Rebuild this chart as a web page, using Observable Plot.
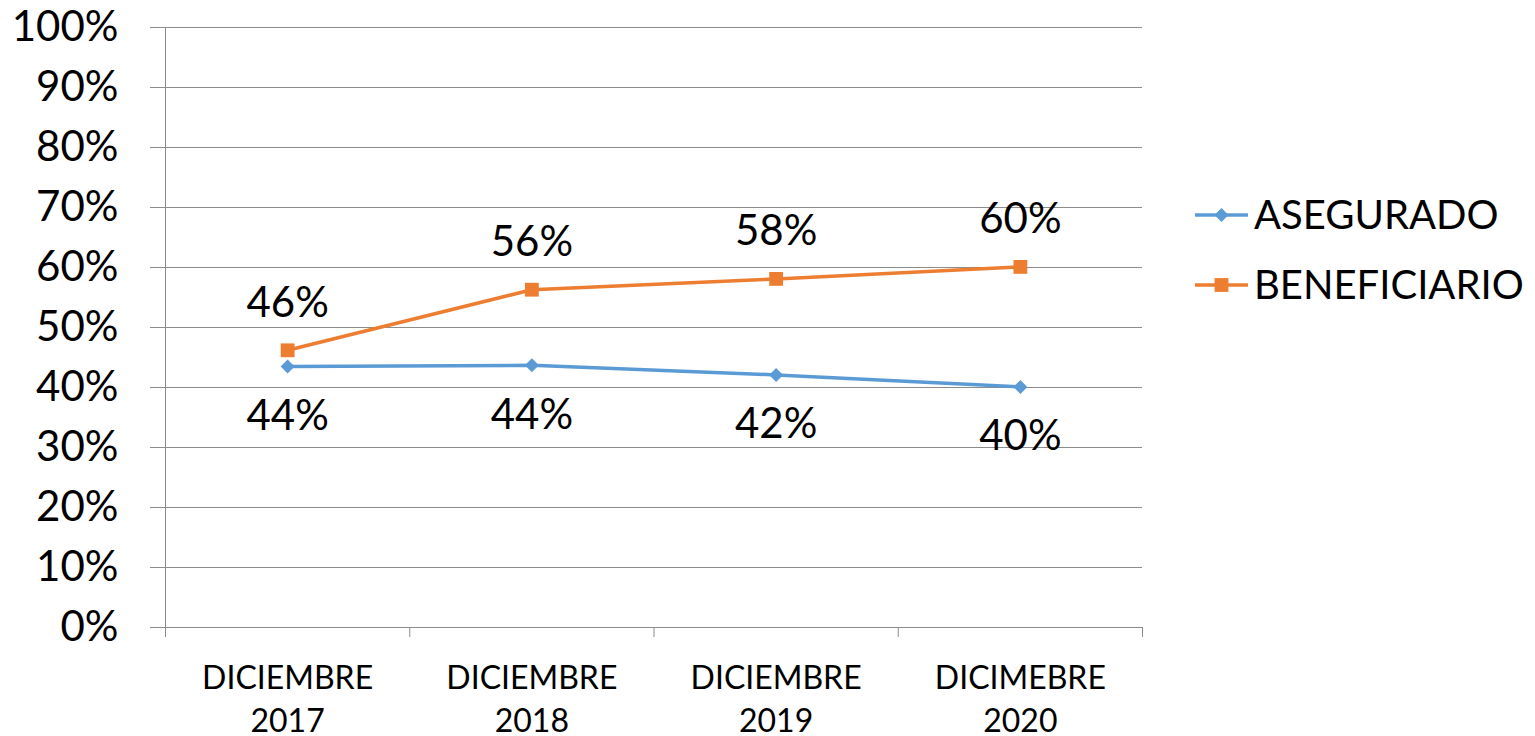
<!DOCTYPE html>
<html>
<head>
<meta charset="utf-8">
<script src="https://cdn.jsdelivr.net/npm/d3@7"></script>
<script src="https://cdn.jsdelivr.net/npm/@observablehq/plot@0.6"></script>
<style>
  html, body { margin: 0; padding: 0; background: #fff; }
  #wrap { position: relative; width: 1535px; height: 736px; font-family: Lato, "Open Sans", sans-serif; }
  #legend { position: absolute; left: 0; top: 0; pointer-events: none; }
</style>
</head>
<body>
<div id="wrap"></div>
<script>
const categories = ["DICIEMBRE\n2017", "DICIEMBRE\n2018", "DICIEMBRE\n2019", "DICIMEBRE\n2020"];
const seriesNames = ["ASEGURADO", "BENEFICIARIO"];
const asegurado = [0.435, 0.437, 0.421, 0.401];
const beneficiario = [0.462, 0.563, 0.581, 0.601];
const aseguradoLabels = ["44%", "44%", "42%", "40%"];
const beneficiarioLabels = ["46%", "56%", "58%", "60%"];
const yTicks = [0, 0.1, 0.2, 0.3, 0.4, 0.5, 0.6, 0.7, 0.8, 0.9, 1];
const colors = ["#5B9BD5", "#ED7D31"];
const gridColor = "#8c8c8c";

const rows = categories.flatMap((c, i) => [
  {serie: seriesNames[0], i, cat: c, v: asegurado[i], label: aseguradoLabels[i]},
  {serie: seriesNames[1], i, cat: c, v: beneficiario[i], label: beneficiarioLabels[i]}
]);
const aseg = rows.filter(d => d.serie === seriesNames[0]);
const ben = rows.filter(d => d.serie === seriesNames[1]);
const boundaries = d3.range(categories.length + 1);
const xc = d => d.i + 0.5;

const chart = Plot.plot({
  width: 1535,
  height: 736,
  marginLeft: 165,
  marginRight: 393,
  marginTop: 27,
  marginBottom: 109,
  style: {fontFamily: "Lato, 'Open Sans', sans-serif", background: "white", overflow: "visible"},
  x: {type: "linear", domain: [0, categories.length]},
  y: {domain: [0, 1]},
  color: {domain: seriesNames, range: colors},
  marks: [
    Plot.gridY(yTicks, {stroke: gridColor, strokeOpacity: 1, strokeWidth: 1}),
    Plot.axisY(yTicks, {label: null, tickSize: 15, tickPadding: 32, tickFormat: d3.format(".0%"), fontSize: 42, stroke: gridColor, strokeOpacity: 1, fill: "black"}),
    Plot.ruleX([0], {stroke: gridColor, strokeWidth: 1}),
    Plot.axisX(boundaries, {label: null, tickSize: 10, tickFormat: () => "", stroke: gridColor, strokeOpacity: 1}),
    Plot.text(categories, {x: (d, i) => i + 0.5, y: () => 0, text: d => d, dy: 69, fontSize: 32, lineHeight: 1.34, fill: "black"}),
    Plot.lineY(rows, {x: xc, y: "v", stroke: "serie", strokeWidth: 3.5}),
    Plot.dot(aseg, {x: xc, y: "v", fill: "serie", symbol: "diamond2", r: 6.3}),
    Plot.dot(ben, {x: xc, y: "v", fill: "serie", symbol: "square2", r: 8.8}),
    Plot.text(aseg, {x: xc, y: "v", text: "label", dy: 50, fontSize: 42, fill: "black"}),
    Plot.text(ben, {x: xc, y: "v", text: "label", dy: -47, fontSize: 42, fill: "black"})
  ]
});
const wrap = document.getElementById("wrap");
wrap.appendChild(chart);

// Legend
const legend = d3.select(wrap).append("svg")
  .attr("id", "legend").attr("width", 1535).attr("height", 736);
const items = legend.selectAll("g").data(seriesNames).join("g")
  .attr("transform", (d, i) => `translate(1195, ${[215, 285][i]})`);
items.append("line").attr("x1", 0).attr("x2", 53).attr("y1", 0).attr("y2", 0)
  .attr("stroke", (d, i) => colors[i]).attr("stroke-width", 3.5);
items.append("path")
  .attr("transform", "translate(26.5,0)")
  .attr("d", (d, i) => i === 0 ? d3.symbol(d3.symbolDiamond2, 6.3 * 6.3 * Math.PI)() : d3.symbol(d3.symbolSquare2, 8.8 * 8.8 * Math.PI)())
  .attr("fill", (d, i) => colors[i]);
items.append("text").attr("x", 59).attr("y", 0).attr("dy", "0.35em")
  .attr("font-size", 40).attr("font-family", "Lato, 'Open Sans', sans-serif").attr("fill", "black")
  .text(d => d);
</script>
</body>
</html>
